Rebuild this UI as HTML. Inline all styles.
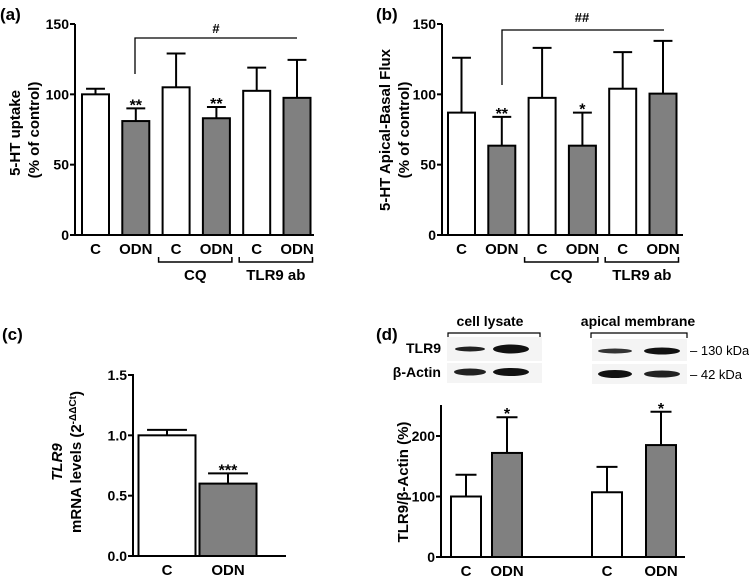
<!DOCTYPE html>
<html><head><meta charset="utf-8">
<style>
body{margin:0;background:#fff;}
svg{display:block;font-family:"Liberation Sans",Arial,sans-serif;font-weight:bold;}
</style></head><body>
<svg id="fig" width="749" height="576" viewBox="0 0 749 576" xmlns="http://www.w3.org/2000/svg">
<g id="static">
  <text x="0" y="20" font-size="17">(a)</text>
  <text x="376" y="20" font-size="17">(b)</text>
  <text x="2" y="340" font-size="17">(c)</text>
  <text x="376" y="340" font-size="17">(d)</text>
  <text transform="translate(20,133) rotate(-90)" text-anchor="middle" font-size="15">5-HT uptake</text>
  <text transform="translate(39,130) rotate(-90)" text-anchor="middle" font-size="15">(% of control)</text>
  <text transform="translate(390,130) rotate(-90)" text-anchor="middle" font-size="15">5-HT Apical-Basal Flux</text>
  <text transform="translate(409,130) rotate(-90)" text-anchor="middle" font-size="15">(% of control)</text>
  <text transform="translate(62,462) rotate(-90)" text-anchor="middle" font-size="15" font-style="italic">TLR9</text>
  <text transform="translate(81,462) rotate(-90)" text-anchor="middle" font-size="15">mRNA levels (2<tspan baseline-shift="super" font-size="10">-ΔΔCt</tspan>)</text>
  <text transform="translate(408,482) rotate(-90)" text-anchor="middle" font-size="15">TLR9/β-Actin  (%)</text>
  <text x="490" y="326" text-anchor="middle" font-size="14">cell lysate</text>
  <text x="638" y="326" text-anchor="middle" font-size="14">apical membrane</text>
  <path d="M448,338 V333 H540 V338" fill="none" stroke="#000" stroke-width="1.2"/>
  <path d="M591,338 V333 H687 V338" fill="none" stroke="#000" stroke-width="1.2"/>
  <text x="441" y="353" text-anchor="end" font-size="14">TLR9</text>
  <text x="441" y="377" text-anchor="end" font-size="14">β-Actin</text>
  <rect x="447" y="337" width="95" height="24" fill="#f4f4f4"/>
  <rect x="447" y="363" width="95" height="20" fill="#f4f4f4"/>
  <rect x="592" y="339" width="95" height="22" fill="#f4f4f4"/>
  <rect x="592" y="364" width="95" height="20" fill="#f4f4f4"/>
  <ellipse cx="470" cy="349" rx="15" ry="2.5" fill="#222"/>
  <ellipse cx="511" cy="349" rx="18" ry="4.5" fill="#111"/>
  <ellipse cx="470" cy="372" rx="16" ry="3.5" fill="#222"/>
  <ellipse cx="511" cy="372" rx="18" ry="4" fill="#111"/>
  <ellipse cx="615" cy="351" rx="17" ry="2.5" fill="#333"/>
  <ellipse cx="662" cy="351" rx="18" ry="3.5" fill="#111"/>
  <ellipse cx="615" cy="374" rx="17" ry="4" fill="#111"/>
  <ellipse cx="662" cy="374" rx="18" ry="3.5" fill="#222"/>
  <text x="690" y="355" font-size="13" font-weight="normal">– 130 kDa</text>
  <text x="690" y="379" font-size="13" font-weight="normal">– 42 kDa</text>
</g>
<g id="charts"></g>
</svg>
<script>
// panel a
const aCats = ["C","ODN","C","ODN","C","ODN"];
const aVals = [100, 81, 105, 83, 102.5, 97.5];
const aErr  = [104, 90, 129, 91, 119, 124.5];
const aStars = ["","**","","**","",""];
const aTicks = [0,50,100,150];
// panel b
const bCats = ["C","ODN","C","ODN","C","ODN"];
const bVals = [87, 63.5, 97.5, 63.5, 104, 100.5];
const bErr  = [126, 84, 133, 87, 130, 138];
const bStars = ["","**","","*","",""];
const bTicks = [0,50,100,150];
// panel c
const cCats = ["C","ODN"];
const cVals = [1.0, 0.6];
const cErr  = [1.045, 0.685];
const cStars = ["","***"];
const cTicks = [0.0,0.5,1.0,1.5];
// panel d
const dCats = ["C","ODN","C","ODN"];
const dVals = [100, 172, 107, 185];
const dErr  = [136, 231, 149, 240];
const dStars = ["","*","","*"];
const dTicks = [0,100,200];

const NS="http://www.w3.org/2000/svg";
const root=document.getElementById('charts');
function mk(tag,attrs,parent){const e=document.createElementNS(NS,tag);for(const k in attrs)e.setAttribute(k,attrs[k]);(parent||root).appendChild(e);return e;}

function panel(cfg){
  const g=mk('g',{});
  
  
  const y=v=>cfg.y0-(v-cfg.vmin)/(cfg.vmax-cfg.vmin)*(cfg.y0-cfg.yTop);
  const ya=mk('line',{x1:cfg.ax,x2:cfg.ax,y1:cfg.axTop,y2:cfg.y0+1,stroke:'#000','stroke-width':2},g);
  
  
  cfg.ticks.forEach(t=>{
    const tl=mk('line',{x1:cfg.ax-5,x2:cfg.ax,y1:y(t),y2:y(t),stroke:'#000','stroke-width':2},g);
    
    
    const tx=mk('text',{x:cfg.ax-6,y:y(t)+5,'text-anchor':'end','font-size':14},g);
    tx.textContent=cfg.fmt?cfg.fmt(t):t;
    
    
  });
  cfg.vals.forEach((v,i)=>{
    const cx=cfg.centers[i], w=cfg.w;
    const e=y(cfg.err[i]), top=y(v);
    const el=mk('line',{x1:cx,x2:cx,y1:e,y2:top,stroke:'#000','stroke-width':2},g);
    
    
    const ec=mk('line',{x1:cx-w*0.35,x2:cx+w*0.35,y1:e,y2:e,stroke:'#000','stroke-width':2},g);
    
    
    const r=mk('rect',{x:cx-w/2,y:top,width:w,height:cfg.y0-top,fill:i%2?'#808080':'#fff',stroke:'#000','stroke-width':2},g);
    
    
    const lb=mk('text',{x:cx,y:cfg.y0+19,'text-anchor':'middle','font-size':15},g);
    lb.textContent=cfg.cats[i];
    
    
    if(cfg.stars[i]){
      const s=mk('text',{x:cx,y:e+2,'text-anchor':'middle','font-size':16},g);
      s.textContent=cfg.stars[i];
      
      
    }
  });
  const xa=mk('line',{x1:cfg.ax-1,x2:cfg.axRight,y1:cfg.y0,y2:cfg.y0,stroke:'#000','stroke-width':2},g);
  
  
  return {g,y};
}

function groupBrackets(g,centers,y0,w){
  [[2,3,'CQ'],[4,5,'TLR9 ab']].forEach(([a,b,t])=>{
    const x1=centers[a]-w/2-4,x2=centers[b]+w/2+2;
    const p=mk('path',{d:`M${x1},${y0+22} V${y0+27} H${x2} V${y0+22}`,fill:'none',stroke:'#000','stroke-width':1.5},g);
    
    
    const tx=mk('text',{x:(x1+x2)/2,y:y0+45,'text-anchor':'middle','font-size':15},g);
    tx.textContent=t;
    
    
  });
}

const aCenters=aVals.map((_,i)=>95.5+i*40.3);
const A=panel({name:'panel-a-chart',ax:75,axTop:24,y0:235,yTop:24,vmin:0,vmax:150,axRight:314,w:27,
  centers:aCenters,vals:aVals,err:aErr,cats:aCats,stars:aStars,ticks:aTicks});
groupBrackets(A.g,aCenters,235,27);
let p=mk('path',{d:`M135,74 V38 H297`,fill:'none',stroke:'#000','stroke-width':1.3},A.g);


let t=mk('text',{x:216,y:33,'text-anchor':'middle','font-size':13},A.g);t.textContent='#';



const bCenters=bVals.map((_,i)=>461.5+i*40.3);
const B=panel({name:'panel-b-chart',ax:442,axTop:24,y0:235,yTop:24,vmin:0,vmax:150,axRight:683,w:27,
  centers:bCenters,vals:bVals,err:bErr,cats:bCats,stars:bStars,ticks:bTicks});
groupBrackets(B.g,bCenters,235,27);
p=mk('path',{d:`M502,85 V30 H664`,fill:'none',stroke:'#000','stroke-width':1.3},B.g);


t=mk('text',{x:582,y:22,'text-anchor':'middle','font-size':13},B.g);t.textContent='##';



panel({name:'panel-c-chart',ax:133,axTop:374,y0:556,yTop:375,vmin:0,vmax:1.5,axRight:286,w:57,
  centers:[167,228],vals:cVals,err:cErr,cats:cCats,stars:cStars,ticks:cTicks,fmt:v=>v.toFixed(1)});

panel({name:'panel-d-chart',ax:441,axTop:405,y0:557,yTop:436,vmin:0,vmax:200,axRight:685,w:30,
  centers:[466,507,607,661],vals:dVals,err:dErr,cats:dCats,stars:dStars,ticks:dTicks});
</script>
</body></html>
